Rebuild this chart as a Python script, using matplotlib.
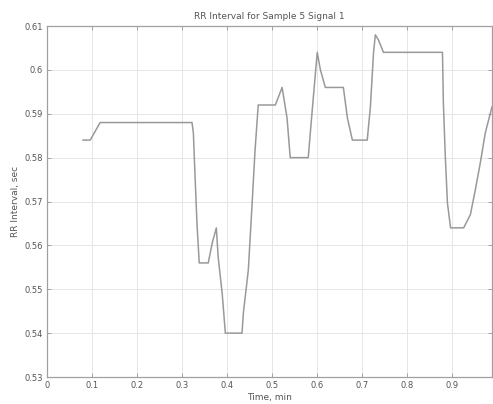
import matplotlib
matplotlib.use("Agg")
import matplotlib.pyplot as plt
import numpy as np

# RR interval trace
time_min = [0.080, 0.096, 0.118, 0.322, 0.325, 0.329, 0.333, 0.338, 0.358, 0.367,
            0.376, 0.380, 0.389, 0.396, 0.433, 0.436, 0.447, 0.455, 0.462, 0.469,
            0.507, 0.522, 0.533, 0.540, 0.580, 0.589, 0.600, 0.607, 0.618, 0.658,
            0.667, 0.678, 0.711, 0.718, 0.725, 0.729, 0.736, 0.747, 0.878, 0.880,
            0.884, 0.889, 0.896, 0.925, 0.940, 0.951, 0.962, 0.973, 0.988]
rr_sec = [0.584, 0.584, 0.588, 0.588, 0.5856, 0.575, 0.565, 0.556, 0.556, 0.5606,
          0.564, 0.5574, 0.549, 0.540, 0.540, 0.5446, 0.5544, 0.5688, 0.5818, 0.592,
          0.592, 0.596, 0.589, 0.580, 0.580, 0.591, 0.604, 0.600, 0.596, 0.596,
          0.589, 0.584, 0.584, 0.5916, 0.604, 0.608, 0.6068, 0.604, 0.604, 0.5925,
          0.581, 0.5697, 0.564, 0.564, 0.567, 0.5727, 0.5788, 0.5856, 0.5916]

x_ticks = [0, 0.1, 0.2, 0.3, 0.4, 0.5, 0.6, 0.7, 0.8, 0.9]
x_labels = ["0", "0.1", "0.2", "0.3", "0.4", "0.5", "0.6", "0.7", "0.8", "0.9"]
y_ticks = [0.53, 0.54, 0.55, 0.56, 0.57, 0.58, 0.59, 0.6, 0.61]
y_labels = ["0.53", "0.54", "0.55", "0.56", "0.57", "0.58", "0.59", "0.6", "0.61"]

fig = plt.figure(figsize=(4.93, 4.04), dpi=100)
ax = fig.add_axes([0.0953, 0.0668, 0.9027, 0.8688])

ax.plot(time_min, rr_sec, color="#999999", lw=1.1)

ax.set_xlim(0, time_min[-1])
ax.set_ylim(0.53, 0.61)
ax.set_xticks(x_ticks)
ax.set_xticklabels(x_labels)
ax.set_yticks(y_ticks)
ax.set_yticklabels(y_labels)

ax.grid(True, color="#e6e6e6", linestyle="-", linewidth=0.7)
ax.set_axisbelow(True)
for s in ax.spines.values():
    s.set_color("#a0a0a0")
    s.set_linewidth(0.9)
ax.tick_params(direction="in", length=3, width=0.7, color="#a0a0a0",
               labelsize=6, labelcolor="#555555", top=True, right=True, pad=3)

ax.set_title("RR Interval for Sample 5 Signal 1", fontsize=6.5, color="#555555", pad=5)
ax.set_xlabel("Time, min", fontsize=6.5, color="#555555", labelpad=2)
ax.set_ylabel("RR Interval, sec", fontsize=6.5, color="#555555", labelpad=3)

fig.savefig("out.png", dpi=100)
